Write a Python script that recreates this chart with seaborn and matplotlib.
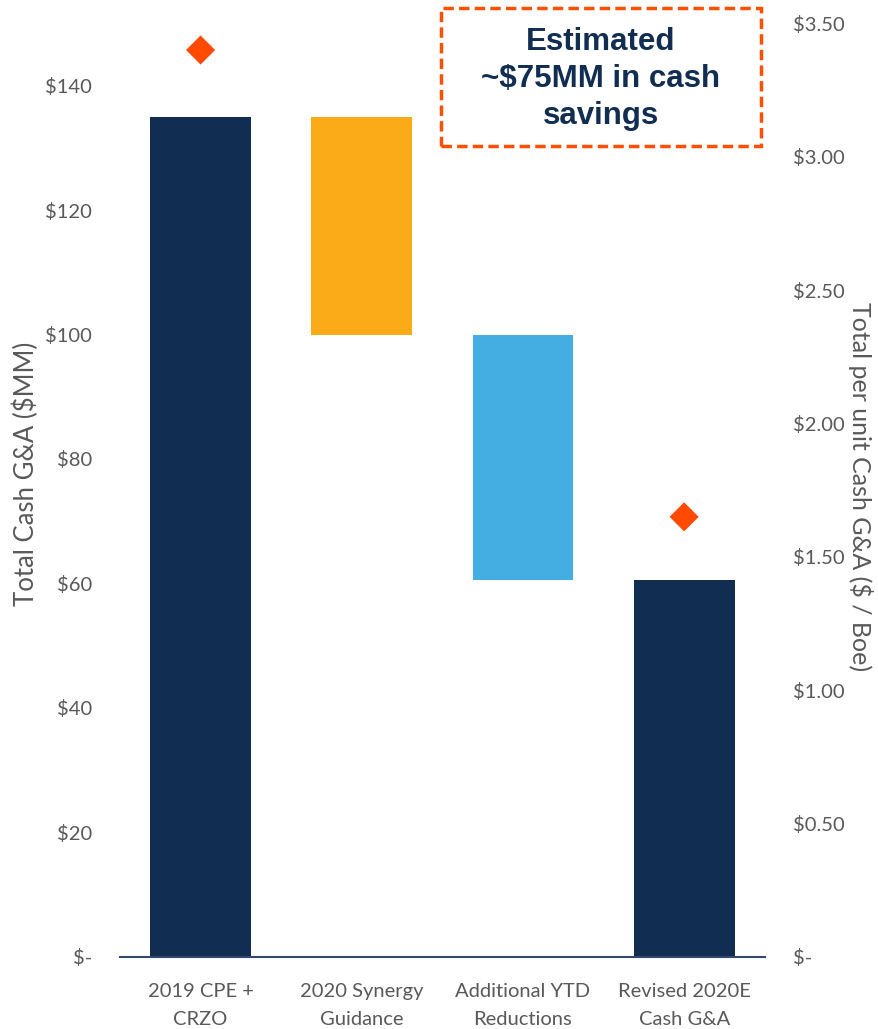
import matplotlib
matplotlib.use("Agg")
import matplotlib.pyplot as plt
import seaborn as sns
import numpy as np
from matplotlib.patches import FancyBboxPatch

categories = ["2019 CPE +\nCRZO", "2020 Synergy\nGuidance", "Additional YTD\nReductions", "Revised 2020E\nCash G&A"]
bar_tops = [135, 135, 100, 60.5]
bar_bottoms = [0, 100, 60.5, 0]
bar_colors = ["#112D52", "#FBAB18", "#44ADE2", "#112D52"]
unit_idx = [0, 3]
unit_values = [3.40, 1.65]
left_ticks = [0, 20, 40, 60, 80, 100, 120, 140]
right_ticks = [0, 0.5, 1.0, 1.5, 2.0, 2.5, 3.0, 3.5]

sns.set_style("white")
plt.rcParams["font.family"] = ["Lato", "DejaVu Sans"]
gray = "#595959"

fig = plt.figure(figsize=(8.79, 10.29), dpi=100)
ax = fig.add_axes([0.1365, 0.07, 0.7335, 0.9086])

heights = [t - b for t, b in zip(bar_tops, bar_bottoms)]
sns.barplot(x=categories, y=heights, bottom=bar_bottoms, color=bar_colors[0],
            width=0.625, saturation=1, ax=ax)
for patch, c in zip(ax.patches, bar_colors):
    patch.set_facecolor(c)
    patch.set_edgecolor("none")

ax.set_xlim(-0.5, 3.5)
ax.set_ylim(0, 150.2)
ax.set_yticks(left_ticks)
ax.set_yticklabels(["$-" if v == 0 else f"${v}" for v in left_ticks])
ax.set_ylabel("Total Cash G&A ($MM)", fontsize=18.5, color=gray)
ax.yaxis.set_label_coords(-0.125, 0.517)
ax.tick_params(axis="y", length=0, pad=20, labelsize=14.5, labelcolor=gray)
ax.tick_params(axis="x", length=0, pad=19, labelsize=14.5, labelcolor=gray)
for lbl in ax.get_xticklabels():
    lbl.set_linespacing(1.75)
for s in ["top", "left", "right"]:
    ax.spines[s].set_visible(False)
ax.spines["bottom"].set_color("#2F4A6E")
ax.spines["bottom"].set_linewidth(1.5)

ax2 = ax.twinx()
sns.scatterplot(x=unit_idx, y=unit_values, marker="D", s=220, color="#FF4A00",
                edgecolor="none", ax=ax2, zorder=5)
ax2.set_ylim(0, 3.505)
ax2.set_yticks(right_ticks)
ax2.set_yticklabels(["$-" if v == 0 else f"${v:.2f}" for v in right_ticks])
ax2.set_ylabel("Total per unit Cash G&A ($ / Boe)", fontsize=18, color=gray,
               rotation=270, va="center")
ax2.yaxis.set_label_coords(1.148, 0.503)
ax2.tick_params(axis="y", length=0, pad=20, labelsize=14.5, labelcolor=gray)
for s in ["top", "left", "right", "bottom"]:
    ax2.spines[s].set_visible(False)
ax2.set_xlim(-0.5, 3.5)

box = FancyBboxPatch((441 / 879, 1 - 146 / 1029), 320 / 879, 138 / 1029,
                     boxstyle="square,pad=0", transform=fig.transFigure,
                     facecolor="white", edgecolor="#FF5000", linewidth=2.5,
                     linestyle=(0, (3, 1.5)), zorder=10)
fig.patches.append(box)
fig.text(601 / 879, 1 - 79 / 1029, "Estimated\n~$75MM in cash\nsavings",
         ha="center", va="center", fontsize=22.5, fontweight="bold",
         color="#112D52", family=["Liberation Sans", "DejaVu Sans"],
         linespacing=1.3, zorder=11)

plt.savefig("out.png", dpi=100)
